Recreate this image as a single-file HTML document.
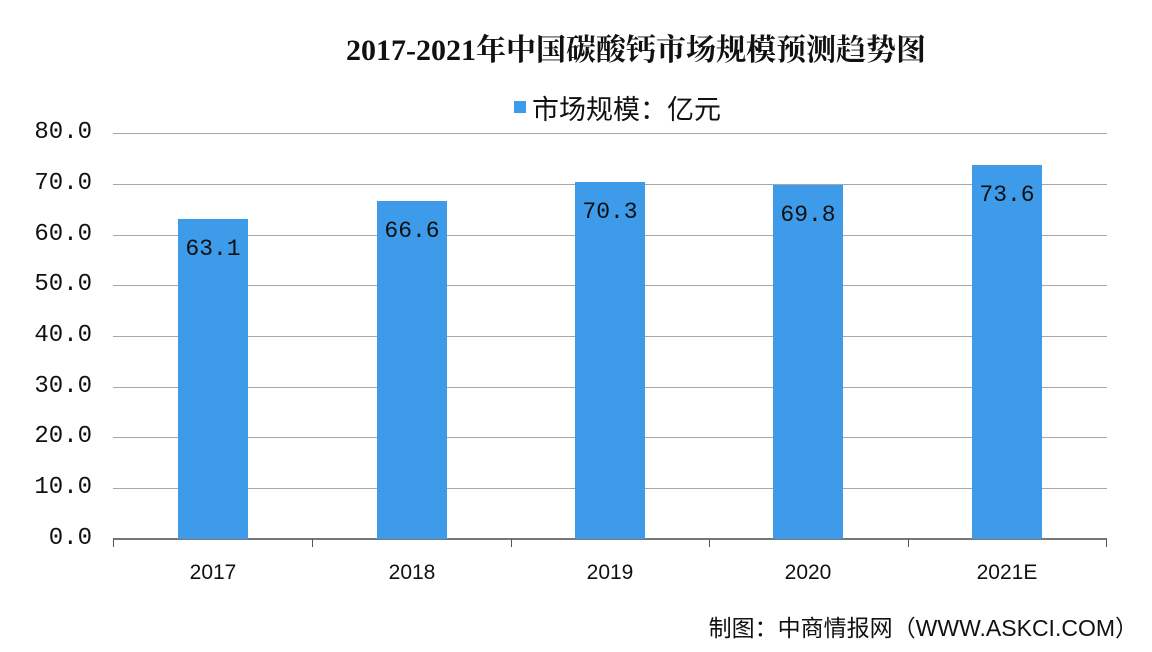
<!DOCTYPE html>
<html><head><meta charset="utf-8"><style>
body{margin:0;background:#fff;}
#c{position:relative;width:1152px;height:652px;overflow:hidden;background:#fff;font-family:"Liberation Sans","Noto Sans CJK SC",sans-serif;}
.t{position:absolute;white-space:nowrap;}
.g{position:absolute;left:113px;width:994px;height:1px;background:#a8a8a8;}
.yl{position:absolute;left:0;width:92px;text-align:right;font-family:"Liberation Mono","Noto Sans CJK SC",monospace;font-size:24px;color:#111;}
.bar{position:absolute;width:70px;background:#3d9be9;}
.vl{position:absolute;width:90px;text-align:center;font-family:"Liberation Mono",monospace;font-size:23px;color:#111;}
.xl{position:absolute;width:140px;text-align:center;font-size:21px;color:#111;top:561px;}
.tk{position:absolute;top:539px;width:1px;height:8px;background:#555;}
</style></head><body><div id="c">
<div class="t" style="left:0;width:1272px;text-align:center;top:25px;font-family:'Liberation Serif','Noto Serif CJK SC',serif;font-weight:bold;font-size:30px;color:#111;">2017-2021年中国碳酸钙市场规模预测趋势图</div>
<div class="t" style="left:514px;top:101px;width:12px;height:12px;background:#3d9be9;"></div>
<div class="t" style="left:532px;top:88px;font-size:27px;color:#111;">市场规模：亿元</div>
<div class="g" style="top:133px"></div><div class="g" style="top:184px"></div><div class="g" style="top:235px"></div><div class="g" style="top:285px"></div><div class="g" style="top:336px"></div><div class="g" style="top:387px"></div><div class="g" style="top:437px"></div><div class="g" style="top:488px"></div>
<div class="g" style="top:538px;height:2px;background:#777"></div>
<div class="yl" style="top:119px">80.0</div><div class="yl" style="top:170px">70.0</div><div class="yl" style="top:221px">60.0</div><div class="yl" style="top:271px">50.0</div><div class="yl" style="top:322px">40.0</div><div class="yl" style="top:373px">30.0</div><div class="yl" style="top:423px">20.0</div><div class="yl" style="top:474px">10.0</div><div class="yl" style="top:525px">0.0</div>
<div class="tk" style="left:113px"></div><div class="tk" style="left:312px"></div><div class="tk" style="left:511px"></div><div class="tk" style="left:709px"></div><div class="tk" style="left:908px"></div><div class="tk" style="left:1106px"></div>
<div class="bar" style="left:178px;top:219px;height:320px"></div>
<div class="bar" style="left:377px;top:201px;height:338px"></div>
<div class="bar" style="left:575px;top:182px;height:357px"></div>
<div class="bar" style="left:773px;top:185px;height:354px"></div>
<div class="bar" style="left:972px;top:165px;height:374px"></div>
<div class="vl" style="left:168px;top:236px">63.1</div>
<div class="vl" style="left:367px;top:218px">66.6</div>
<div class="vl" style="left:565px;top:199px">70.3</div>
<div class="vl" style="left:763px;top:202px">69.8</div>
<div class="vl" style="left:962px;top:182px">73.6</div>
<div class="xl" style="left:143px">2017</div><div class="xl" style="left:342px">2018</div><div class="xl" style="left:540px">2019</div><div class="xl" style="left:738px">2020</div><div class="xl" style="left:937px">2021E</div>
<div class="t" style="right:14px;top:609px;font-size:23px;color:#111;">制图：中商情报网（WWW.ASKCI.COM）</div>
</div></body></html>
